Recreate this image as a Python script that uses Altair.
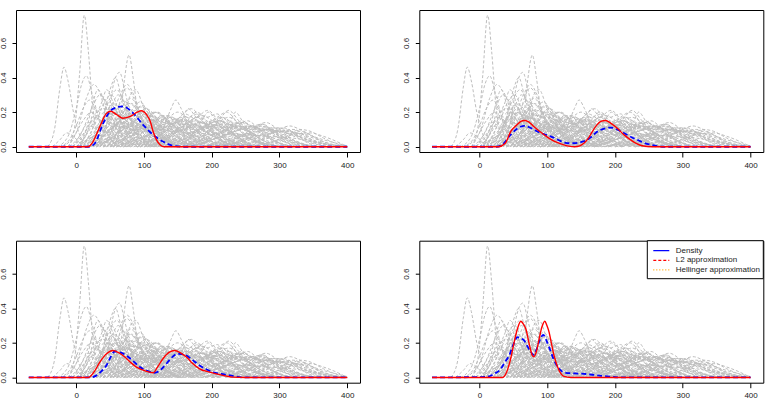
import altair as alt
import pandas as pd

# ---------------- data ----------------
X_TICKS = [0, 100, 200, 300, 400]
Y_TICKS = [0.0, 0.2, 0.4, 0.6]
X_DOMAIN = [-88.8, 418.8]
Y_DOMAIN = [-0.0304, 0.7904]

# grey dashed per-subject density curves (same in all four panels)
GREY_CURVES = [
    [(-42, 0), (-32, 0.10), (-24, 0.34), (-18, 0.46), (-12, 0.38), (-4, 0.20), (6, 0.06), (16, 0)],
    [(-12, 0), (-2, 0.12), (5, 0.42), (12, 0.76), (18, 0.55), (24, 0.25), (32, 0.06), (42, 0)],
    [(-28, 0), (-12, 0.06), (0, 0.22), (8, 0.36), (15, 0.41), (24, 0.30), (38, 0.10), (55, 0)],
    [(-12, 0), (2, 0.10), (15, 0.28), (26, 0.36), (34, 0.32), (46, 0.16), (62, 0.03), (75, 0)],
    [(55, 0), (64, 0.12), (71, 0.38), (78, 0.53), (84, 0.40), (90, 0.22), (100, 0.06), (112, 0)],
    [(35, 0), (46, 0.15), (55, 0.36), (64, 0.43), (72, 0.32), (84, 0.12), (98, 0.02), (108, 0)],
    [(25, 0), (38, 0.14), (50, 0.33), (58, 0.40), (66, 0.30), (80, 0.10), (95, 0)],
    [(55, 0), (70, 0.14), (80, 0.30), (88, 0.33), (98, 0.24), (112, 0.07), (125, 0)],
    [(-35, 0), (-24, 0.04), (-14, 0.08), (-4, 0.06), (6, 0.02), (15, 0)],
    [(-5, 0), (10, 0.10), (25, 0.24), (35, 0.30), (45, 0.25), (60, 0.10), (80, 0)],
    [(0, 0), (20, 0.10), (38, 0.26), (45, 0.33), (55, 0.25), (70, 0.10), (90, 0)],
    [(20, 0), (35, 0.12), (50, 0.28), (60, 0.33), (70, 0.26), (85, 0.10), (105, 0)],
    [(30, 0), (50, 0.15), (65, 0.30), (75, 0.36), (85, 0.30), (100, 0.12), (120, 0)],
    [(10, 0), (30, 0.08), (45, 0.20), (55, 0.25), (65, 0.22), (80, 0.10), (100, 0.02), (115, 0)],
    [(20, 0), (40, 0.10), (60, 0.22), (70, 0.27), (80, 0.22), (95, 0.10), (115, 0.02), (130, 0)],
    [(30, 0), (50, 0.08), (70, 0.20), (82, 0.25), (92, 0.20), (110, 0.08), (130, 0)],
    [(40, 0), (60, 0.08), (80, 0.20), (95, 0.26), (105, 0.20), (120, 0.08), (140, 0)],
    [(50, 0), (70, 0.08), (90, 0.18), (102, 0.22), (115, 0.17), (135, 0.06), (155, 0)],
    [(60, 0), (85, 0.08), (105, 0.17), (118, 0.20), (130, 0.16), (150, 0.06), (170, 0)],
    [(-5, 0), (15, 0.10), (30, 0.20), (40, 0.22), (52, 0.17), (70, 0.06), (90, 0)],
    [(5, 0), (25, 0.08), (45, 0.17), (60, 0.20), (75, 0.15), (95, 0.05), (115, 0)],
    [(15, 0), (40, 0.06), (65, 0.15), (85, 0.18), (105, 0.13), (130, 0.04), (150, 0)],
    [(25, 0), (55, 0.06), (80, 0.14), (100, 0.17), (120, 0.13), (145, 0.04), (170, 0)],
    [(40, 0), (70, 0.05), (100, 0.13), (125, 0.16), (145, 0.12), (170, 0.04), (195, 0)],
    [(60, 0), (90, 0.06), (120, 0.14), (140, 0.17), (160, 0.12), (185, 0.04), (210, 0)],
    [(70, 0), (100, 0.05), (130, 0.13), (150, 0.16), (170, 0.11), (200, 0.03), (225, 0)],
    [(115, 0), (128, 0.10), (140, 0.22), (147, 0.27), (155, 0.22), (170, 0.08), (185, 0)],
    [(90, 0), (120, 0.06), (150, 0.16), (170, 0.22), (185, 0.16), (210, 0.05), (235, 0)],
    [(100, 0), (130, 0.05), (160, 0.13), (180, 0.17), (200, 0.13), (225, 0.04), (250, 0)],
    [(120, 0), (150, 0.06), (175, 0.15), (194, 0.21), (210, 0.15), (235, 0.05), (260, 0)],
    [(140, 0), (170, 0.05), (195, 0.13), (215, 0.17), (235, 0.12), (260, 0.04), (285, 0)],
    [(160, 0), (185, 0.06), (210, 0.15), (225, 0.21), (240, 0.15), (265, 0.05), (290, 0)],
    [(170, 0), (200, 0.05), (225, 0.11), (245, 0.14), (262, 0.11), (290, 0.04), (320, 0)],
    [(190, 0), (215, 0.05), (238, 0.12), (253, 0.15), (268, 0.11), (295, 0.03), (320, 0)],
    [(210, 0), (240, 0.05), (262, 0.11), (280, 0.14), (298, 0.10), (325, 0.03), (350, 0)],
    [(240, 0), (270, 0.04), (295, 0.09), (315, 0.12), (335, 0.09), (365, 0.03), (395, 0)],
    [(200, 0), (240, 0.03), (270, 0.07), (295, 0.09), (320, 0.07), (360, 0.02), (400, 0)],
    [(150, 0), (190, 0.04), (220, 0.09), (250, 0.12), (275, 0.09), (315, 0.03), (360, 0)],
    [(130, 0), (165, 0.05), (195, 0.11), (225, 0.13), (250, 0.10), (285, 0.03), (320, 0)],
    [(80, 0), (110, 0.06), (140, 0.13), (160, 0.15), (180, 0.12), (210, 0.04), (240, 0)],
    [(50, 0), (80, 0.06), (110, 0.14), (130, 0.18), (148, 0.14), (175, 0.05), (200, 0)],
    [(30, 0), (60, 0.07), (85, 0.15), (105, 0.19), (125, 0.14), (150, 0.05), (175, 0)],
    [(100, 0), (140, 0.04), (175, 0.09), (205, 0.11), (235, 0.08), (275, 0.02), (310, 0)],
    [(180, 0), (220, 0.03), (255, 0.07), (285, 0.10), (310, 0.08), (350, 0.03), (400, 0)],
    [(110, 0), (140, 0.06), (165, 0.14), (185, 0.18), (205, 0.14), (235, 0.05), (265, 0)],
    [(60, 0), (95, 0.05), (130, 0.11), (160, 0.13), (190, 0.10), (230, 0.03), (265, 0)],
    [(20, 0), (45, 0.08), (70, 0.17), (88, 0.21), (105, 0.16), (130, 0.05), (155, 0)],
    [(0, 0), (25, 0.06), (50, 0.14), (70, 0.17), (90, 0.13), (115, 0.04), (140, 0)],
    [(45, 0), (65, 0.10), (85, 0.20), (98, 0.24), (110, 0.19), (130, 0.06), (150, 0)],
    [(130, 0), (160, 0.05), (190, 0.12), (210, 0.15), (230, 0.12), (260, 0.04), (290, 0)],
    [(220, 0), (250, 0.04), (275, 0.09), (295, 0.11), (315, 0.09), (345, 0.03), (375, 0)],
    [(90, 0), (125, 0.05), (160, 0.10), (190, 0.12), (220, 0.09), (260, 0.03), (300, 0)],
    [(40, 0), (75, 0.08), (105, 0.17), (120, 0.20), (135, 0.15), (160, 0.05), (185, 0)],
    [(160, 0), (200, 0.04), (235, 0.09), (265, 0.11), (290, 0.08), (330, 0.02), (370, 0)],
    [(250, 0), (290, 0.03), (320, 0.07), (345, 0.08), (365, 0.06), (390, 0.02), (400, 0)],
    [(-20, 0), (-5, 0.05), (10, 0.15), (22, 0.20), (35, 0.15), (50, 0.05), (65, 0)],
    [(10, 0), (30, 0.15), (45, 0.28), (52, 0.30), (62, 0.22), (78, 0.08), (95, 0)],
    [(40, 0), (55, 0.12), (68, 0.30), (75, 0.34), (85, 0.28), (100, 0.10), (118, 0)],
    [(0, 0), (12, 0.05), (22, 0.12), (30, 0.10), (40, 0.16), (52, 0.12), (65, 0.14), (80, 0.06), (95, 0.02), (110, 0)],
    [(15, 0), (25, 0.06), (35, 0.14), (45, 0.11), (58, 0.19), (70, 0.15), (85, 0.08), (100, 0.10), (120, 0.03), (140, 0)],
    [(20, 0), (35, 0.05), (50, 0.12), (62, 0.10), (75, 0.17), (90, 0.13), (105, 0.15), (125, 0.06), (150, 0)],
    [(25, 0), (45, 0.08), (60, 0.16), (72, 0.22), (85, 0.18), (100, 0.20), (115, 0.12), (135, 0.04), (160, 0)],
    [(35, 0), (55, 0.06), (75, 0.13), (90, 0.10), (110, 0.16), (125, 0.12), (145, 0.05), (170, 0)],
    [(45, 0), (70, 0.05), (90, 0.11), (110, 0.09), (130, 0.14), (150, 0.11), (175, 0.04), (200, 0)],
    [(55, 0), (80, 0.06), (100, 0.10), (120, 0.15), (140, 0.13), (160, 0.16), (180, 0.08), (205, 0.02), (230, 0)],
    [(65, 0), (90, 0.04), (115, 0.09), (135, 0.12), (155, 0.10), (175, 0.13), (195, 0.08), (225, 0.02), (250, 0)],
    [(75, 0), (100, 0.05), (125, 0.12), (150, 0.20), (165, 0.17), (180, 0.19), (200, 0.10), (225, 0.03), (250, 0)],
    [(85, 0), (115, 0.05), (140, 0.10), (160, 0.09), (180, 0.14), (200, 0.12), (225, 0.05), (255, 0)],
    [(95, 0), (120, 0.04), (145, 0.09), (170, 0.13), (190, 0.11), (210, 0.13), (235, 0.06), (265, 0)],
    [(105, 0), (135, 0.06), (160, 0.12), (180, 0.10), (200, 0.15), (220, 0.11), (245, 0.04), (275, 0)],
    [(115, 0), (145, 0.04), (170, 0.08), (195, 0.11), (215, 0.09), (240, 0.12), (265, 0.06), (295, 0)],
    [(125, 0), (155, 0.05), (180, 0.10), (205, 0.13), (225, 0.17), (245, 0.12), (270, 0.05), (300, 0)],
    [(135, 0), (165, 0.04), (195, 0.09), (220, 0.12), (240, 0.10), (260, 0.12), (285, 0.05), (315, 0)],
    [(150, 0), (180, 0.04), (210, 0.08), (235, 0.11), (255, 0.10), (275, 0.12), (300, 0.06), (330, 0)],
    [(165, 0), (200, 0.04), (230, 0.08), (255, 0.12), (275, 0.10), (295, 0.09), (320, 0.04), (350, 0)],
    [(185, 0), (215, 0.03), (245, 0.07), (270, 0.09), (290, 0.11), (310, 0.08), (340, 0.03), (370, 0)],
    [(200, 0), (235, 0.03), (265, 0.06), (290, 0.08), (315, 0.09), (335, 0.06), (365, 0.02), (395, 0)],
    [(230, 0), (265, 0.03), (295, 0.06), (320, 0.08), (340, 0.07), (365, 0.04), (400, 0.005)],
    [(260, 0), (290, 0.03), (310, 0.06), (330, 0.10), (345, 0.09), (365, 0.05), (390, 0.01), (400, 0)],
    [(10, 0), (22, 0.08), (32, 0.18), (42, 0.15), (55, 0.22), (68, 0.18), (82, 0.10), (100, 0.04), (120, 0)],
    [(5, 0), (18, 0.10), (28, 0.22), (38, 0.19), (48, 0.26), (60, 0.20), (75, 0.08), (95, 0)],
    [(30, 0), (42, 0.10), (55, 0.20), (65, 0.18), (78, 0.25), (92, 0.20), (108, 0.08), (130, 0)],
    [(40, 0), (55, 0.08), (70, 0.18), (82, 0.16), (95, 0.23), (110, 0.18), (128, 0.07), (150, 0)],
    [(50, 0), (68, 0.06), (85, 0.14), (100, 0.12), (115, 0.20), (132, 0.16), (150, 0.06), (175, 0)],
    [(60, 0), (80, 0.05), (100, 0.12), (118, 0.10), (135, 0.18), (152, 0.14), (170, 0.05), (195, 0)],
    [(70, 0), (92, 0.06), (112, 0.13), (128, 0.17), (145, 0.13), (165, 0.15), (185, 0.06), (210, 0)],
    [(80, 0), (105, 0.05), (128, 0.12), (145, 0.16), (160, 0.13), (178, 0.17), (198, 0.09), (225, 0.02), (245, 0)],
    [(90, 0), (118, 0.05), (142, 0.12), (160, 0.19), (175, 0.16), (195, 0.12), (220, 0.04), (245, 0)],
    [(110, 0), (135, 0.05), (160, 0.13), (178, 0.20), (192, 0.17), (208, 0.19), (225, 0.10), (250, 0.03), (270, 0)],
    [(140, 0), (168, 0.05), (190, 0.12), (208, 0.17), (222, 0.20), (238, 0.14), (260, 0.05), (285, 0)],
    [(175, 0), (205, 0.05), (228, 0.11), (245, 0.15), (258, 0.12), (275, 0.13), (298, 0.05), (325, 0)],
    [(0, 0), (20, 0.05), (40, 0.08), (60, 0.12), (80, 0.10), (100, 0.12), (130, 0.06), (160, 0.02), (190, 0)],
    [(20, 0), (50, 0.04), (80, 0.09), (110, 0.11), (140, 0.09), (170, 0.07), (200, 0.03), (240, 0)],
    [(-10, 0), (5, 0.06), (18, 0.14), (30, 0.12), (42, 0.17), (56, 0.12), (72, 0.05), (90, 0)],
    [(-25, 0), (-10, 0.04), (0, 0.12), (10, 0.22), (20, 0.27), (30, 0.20), (45, 0.08), (60, 0)],
    [(5, 0), (15, 0.10), (25, 0.26), (32, 0.33), (40, 0.28), (50, 0.15), (65, 0.04), (80, 0)],
    [(30, 0), (44, 0.12), (54, 0.25), (62, 0.30), (70, 0.27), (80, 0.16), (95, 0.05), (110, 0)],
    [(50, 0), (62, 0.10), (72, 0.22), (80, 0.28), (88, 0.25), (98, 0.14), (112, 0.04), (125, 0)],
    [(60, 0), (78, 0.08), (92, 0.18), (102, 0.22), (112, 0.20), (125, 0.10), (140, 0.03), (155, 0)],
    [(120, 0), (140, 0.06), (155, 0.14), (165, 0.22), (175, 0.18), (190, 0.08), (210, 0)],
    [(200, 0), (215, 0.06), (228, 0.15), (235, 0.20), (245, 0.15), (260, 0.06), (280, 0)],
    [(150, 0), (170, 0.06), (185, 0.15), (195, 0.20), (205, 0.16), (222, 0.06), (245, 0)],
    [(15, 0), (30, 0.07), (45, 0.15), (55, 0.13), (68, 0.20), (80, 0.16), (95, 0.07), (115, 0)],
    [(25, 0), (40, 0.05), (55, 0.11), (70, 0.16), (82, 0.13), (95, 0.15), (112, 0.07), (135, 0)],
    [(35, 0), (52, 0.08), (68, 0.17), (80, 0.21), (92, 0.17), (105, 0.19), (120, 0.09), (140, 0)],
    [(45, 0), (62, 0.07), (78, 0.14), (92, 0.19), (106, 0.15), (122, 0.08), (140, 0.02), (160, 0)],
    [(55, 0), (75, 0.06), (95, 0.14), (110, 0.12), (125, 0.18), (142, 0.13), (160, 0.05), (180, 0)],
    [(65, 0), (85, 0.05), (105, 0.11), (122, 0.16), (138, 0.14), (155, 0.17), (172, 0.08), (195, 0)],
    [(75, 0), (98, 0.06), (118, 0.13), (135, 0.11), (152, 0.16), (168, 0.12), (188, 0.05), (210, 0)],
    [(85, 0), (110, 0.05), (132, 0.12), (150, 0.14), (168, 0.11), (185, 0.14), (205, 0.06), (230, 0)],
    [(95, 0), (122, 0.06), (145, 0.13), (162, 0.17), (178, 0.13), (198, 0.07), (222, 0.02), (245, 0)],
    [(105, 0), (130, 0.04), (155, 0.10), (175, 0.15), (192, 0.13), (212, 0.15), (232, 0.07), (258, 0)],
    [(115, 0), (140, 0.05), (165, 0.11), (185, 0.14), (205, 0.12), (225, 0.15), (248, 0.07), (275, 0)],
    [(125, 0), (150, 0.04), (175, 0.09), (198, 0.13), (218, 0.11), (238, 0.14), (260, 0.06), (288, 0)],
    [(135, 0), (162, 0.05), (188, 0.11), (210, 0.15), (230, 0.12), (252, 0.09), (278, 0.03), (305, 0)],
    [(145, 0), (175, 0.04), (202, 0.09), (225, 0.12), (248, 0.14), (268, 0.09), (292, 0.03), (320, 0)],
    [(155, 0), (185, 0.04), (212, 0.09), (238, 0.12), (260, 0.10), (282, 0.11), (308, 0.05), (335, 0)],
    [(170, 0), (200, 0.04), (228, 0.08), (252, 0.11), (272, 0.12), (295, 0.08), (322, 0.03), (350, 0)],
    [(190, 0), (222, 0.03), (250, 0.07), (275, 0.10), (298, 0.09), (320, 0.10), (348, 0.04), (378, 0)],
    [(210, 0), (245, 0.03), (275, 0.06), (300, 0.09), (325, 0.08), (350, 0.05), (380, 0.01), (400, 0)],
    [(5, 0), (20, 0.04), (35, 0.10), (50, 0.08), (65, 0.13), (82, 0.10), (100, 0.05), (125, 0)],
    [(10, 0), (30, 0.05), (50, 0.10), (68, 0.14), (85, 0.12), (102, 0.13), (122, 0.06), (148, 0)],
    [(20, 0), (42, 0.04), (65, 0.09), (85, 0.12), (105, 0.10), (125, 0.12), (148, 0.06), (175, 0)],
    [(30, 0), (55, 0.04), (80, 0.08), (105, 0.11), (128, 0.10), (150, 0.11), (175, 0.05), (205, 0)],
    [(40, 0), (68, 0.04), (95, 0.08), (120, 0.10), (145, 0.09), (170, 0.10), (198, 0.05), (230, 0)],
    [(50, 0), (80, 0.03), (110, 0.07), (140, 0.09), (168, 0.08), (195, 0.09), (225, 0.04), (260, 0)],
    [(70, 0), (105, 0.03), (140, 0.06), (175, 0.08), (205, 0.07), (235, 0.07), (268, 0.03), (300, 0)],
    [(100, 0), (140, 0.03), (180, 0.06), (215, 0.08), (248, 0.07), (280, 0.06), (315, 0.02), (350, 0)],
    [(130, 0), (170, 0.03), (210, 0.05), (250, 0.07), (285, 0.06), (320, 0.05), (360, 0.02), (400, 0)],
    [(25, 0), (35, 0.08), (45, 0.20), (52, 0.24), (60, 0.20), (72, 0.10), (88, 0.03), (100, 0)],
    [(35, 0), (48, 0.06), (60, 0.16), (68, 0.23), (76, 0.20), (88, 0.11), (102, 0.03), (115, 0)],
    [(60, 0), (72, 0.06), (85, 0.14), (95, 0.20), (105, 0.17), (118, 0.08), (135, 0)],
    [(70, 0), (85, 0.06), (100, 0.15), (110, 0.20), (120, 0.16), (135, 0.06), (150, 0)],
    [(95, 0), (110, 0.06), (125, 0.14), (135, 0.18), (145, 0.14), (160, 0.06), (178, 0)],
    [(15, 0), (28, 0.06), (40, 0.16), (48, 0.20), (56, 0.17), (68, 0.08), (85, 0)],
    [(-5, 0), (8, 0.05), (20, 0.13), (30, 0.17), (40, 0.13), (55, 0.05), (70, 0)],
    [(170, 0), (190, 0.06), (205, 0.13), (215, 0.17), (228, 0.12), (245, 0.04), (265, 0)],
    [(230, 0), (250, 0.05), (265, 0.11), (275, 0.13), (288, 0.10), (305, 0.04), (325, 0)],
    [(255, 0), (275, 0.04), (292, 0.09), (305, 0.11), (318, 0.09), (338, 0.03), (360, 0)],
    [(280, 0), (300, 0.03), (318, 0.07), (330, 0.09), (345, 0.07), (365, 0.02), (385, 0)],
]

# panel curves: density (blue dashed) and L2 approximation (red solid)
P1_DENS_X = [-70, 18, 23, 27.7, 40, 49.7, 60, 69.3, 84, 98.7, 113.5, 128, 143, 160, 400]
P1_DENS_Y = [0, 0, 0.005, 0.02, 0.137, 0.204, 0.228, 0.233, 0.194, 0.127, 0.069, 0.03, 0.006, 0, 0]
P1_L2_X = [-70, 17, 25, 35, 44, 51, 60, 69, 80, 90, 96, 104, 109, 113.5, 118.5, 124, 130, 400]
P1_L2_Y = [0, 0, 0.03, 0.117, 0.19, 0.205, 0.185, 0.165, 0.175, 0.2, 0.208, 0.185, 0.15, 0.088, 0.04, 0.01, 0, 0]

P2_DENS_X = [-70, 25, 34, 46, 56, 66, 75, 85.5, 95, 105, 115, 124.8, 135, 142, 150, 159, 166, 174, 184,
             193.6, 203, 213, 223, 232.8, 242, 252.6, 272, 400]
P2_DENS_Y = [0, 0, 0.012, 0.07, 0.105, 0.121, 0.11, 0.088, 0.073, 0.06, 0.042, 0.025, 0.02, 0.021, 0.027,
             0.04, 0.06, 0.088, 0.105, 0.111, 0.1, 0.079, 0.058, 0.04, 0.024, 0.012, 0, 0]
P2_L2_X = [-70, 28, 38, 46, 55, 61, 66, 72, 80, 90, 100, 110, 120, 134, 140, 148, 154, 160, 166.5, 173,
           179, 186, 194, 203, 213, 223, 232, 240, 255, 400]
P2_L2_Y = [0, 0, 0.02, 0.088, 0.125, 0.146, 0.152, 0.145, 0.117, 0.085, 0.056, 0.033, 0.017, 0.002, 0,
           0.005, 0.02, 0.045, 0.088, 0.125, 0.146, 0.152, 0.135, 0.108, 0.07, 0.04, 0.018, 0.006, 0, 0]

P3_DENS_X = [-70, 22, 30, 37, 44.8, 51, 57, 65, 74, 84, 94, 105, 116, 125, 133, 141, 150, 156, 162.7,
             172, 182, 192, 202, 214, 226.5, 246, 400]
P3_DENS_Y = [0, 0, 0.012, 0.035, 0.07, 0.12, 0.15, 0.145, 0.127, 0.095, 0.06, 0.038, 0.027, 0.045, 0.079,
             0.115, 0.137, 0.135, 0.127, 0.1, 0.069, 0.047, 0.031, 0.02, 0.012, 0, 0]
P3_L2_X = [-70, 18, 26, 35, 44.8, 54.5, 62, 71.8, 80, 89, 97, 103.7, 113.5, 120, 128, 137, 145.5, 154,
           162.7, 172, 182, 197, 216.6, 231, 250, 400]
P3_L2_Y = [0, 0, 0.03, 0.089, 0.137, 0.156, 0.145, 0.118, 0.088, 0.06, 0.045, 0.035, 0.027, 0.06, 0.108,
           0.145, 0.156, 0.142, 0.118, 0.08, 0.05, 0.031, 0.012, 0.002, 0, 0]

P4_DENS_X = [-70, 10, 21.7, 31.5, 37, 43.8, 50, 56, 61, 65.9, 70, 75.7, 80, 84, 88, 94.3, 98, 102.7, 110,
             117.5, 127, 140, 154, 174, 193, 210, 400]
P4_DENS_Y = [0, 0.003, 0.021, 0.05, 0.085, 0.127, 0.19, 0.233, 0.225, 0.214, 0.185, 0.148, 0.13, 0.16,
             0.206, 0.246, 0.22, 0.175, 0.1, 0.05, 0.027, 0.023, 0.021, 0.012, 0.004, 0, 0]
P4_L2_X = [-70, 34, 40, 46, 51, 56, 61, 64.5, 68.4, 73, 78, 80, 84, 88, 92, 96.4, 99.5, 102.7, 106, 110,
           117.5, 124.8, 135, 400]
P4_L2_Y = [0, 0, 0.03, 0.108, 0.2, 0.281, 0.325, 0.31, 0.281, 0.2, 0.127, 0.12, 0.15, 0.223, 0.29, 0.325,
           0.3, 0.262, 0.2, 0.127, 0.04, 0.006, 0, 0]

PANELS = [
    (P1_DENS_X, P1_DENS_Y, P1_L2_X, P1_L2_Y),
    (P2_DENS_X, P2_DENS_Y, P2_L2_X, P2_L2_Y),
    (P3_DENS_X, P3_DENS_Y, P3_L2_X, P3_L2_Y),
    (P4_DENS_X, P4_DENS_Y, P4_L2_X, P4_L2_Y),
]

LEGEND_LABELS = ["Density", "L2 approximation", "Hellinger approximation"]
LEGEND_COLORS = ["#0000FF", "#FF0000", "#FFA500"]

# ---------------- build ----------------
FONT = "Liberation Sans"
W, H = 344, 142

grey_rows = []
for i, curve in enumerate(GREY_CURVES):
    for j, (x, y) in enumerate(curve):
        grey_rows.append({"curve": i, "k": j, "x": x, "y": y})
grey_df = pd.DataFrame(grey_rows)

xscale = alt.Scale(domain=X_DOMAIN, nice=False, zero=False)
yscale = alt.Scale(domain=Y_DOMAIN, nice=False, zero=False)
xaxis = alt.Axis(values=X_TICKS, format="d", title=None, grid=False, domain=False,
                 tickSize=5, labelPadding=4, labelFont=FONT, labelFontSize=8,
                 labelColor="#222222", tickColor="black")
yaxis = alt.Axis(values=Y_TICKS, format=".1f", title=None, grid=False, domain=False,
                 tickSize=4, labelPadding=5, labelAngle=270, labelAlign="center",
                 labelBaseline="bottom", labelFont=FONT, labelFontSize=8,
                 labelColor="#222222", tickColor="black")


def panel(dx, dy, lx, ly, with_legend=False):
    grey = alt.Chart(grey_df).mark_line(
        color="#BEBEBE", strokeDash=[3, 2], strokeWidth=1, interpolate="monotone", clip=True
    ).encode(
        x=alt.X("x:Q", scale=xscale, axis=xaxis),
        y=alt.Y("y:Q", scale=yscale, axis=yaxis),
        detail="curve:N",
        order="k:Q",
    )
    dens = alt.Chart(pd.DataFrame({"x": dx, "y": dy})).mark_line(
        color="#0000FF", strokeDash=[5, 3], strokeWidth=1.8, interpolate="monotone", clip=True
    ).encode(x=alt.X("x:Q", scale=xscale), y=alt.Y("y:Q", scale=yscale))
    l2 = alt.Chart(pd.DataFrame({"x": lx, "y": ly})).mark_line(
        color="#FF0000", strokeWidth=1.4, interpolate="monotone", clip=True
    ).encode(x=alt.X("x:Q", scale=xscale), y=alt.Y("y:Q", scale=yscale))
    layers = [grey, dens, l2]
    if with_legend:
        one = pd.DataFrame({"label": ["legend"]})
        box = alt.Chart(one).mark_rect(fill="white", stroke="black", strokeWidth=1).encode(
            x=alt.value(228), x2=alt.value(W), y=alt.value(0), y2=alt.value(38)
        )
        layers.append(box)
        dashes = [[1, 0], [3, 2], [1, 2]]
        for i, (lab, col) in enumerate(zip(LEGEND_LABELS, LEGEND_COLORS)):
            yy = 10 + i * 9.6
            d = pd.DataFrame({"label": [lab]})
            layers.append(
                alt.Chart(d).mark_rule(color=col, strokeWidth=1.2, strokeDash=dashes[i]).encode(
                    x=alt.value(234), x2=alt.value(250), y=alt.value(yy)
                )
            )
            layers.append(
                alt.Chart(d).mark_text(align="left", baseline="middle", font=FONT, fontSize=8,
                                       color="#222222").encode(
                    x=alt.value(256.5), y=alt.value(yy), text="label:N"
                )
            )
    return alt.layer(*layers).properties(width=W, height=H)


charts = [panel(*p, with_legend=(i == 3)) for i, p in enumerate(PANELS)]

chart = alt.concat(
    *charts, columns=2, spacing={"row": 88.7, "column": 59.3}, bounds="flush"
).properties(
    autosize=alt.AutoSizeParams(type="none"),
    padding={"left": 16, "top": 10, "right": 752, "bottom": 408},
    background="white",
).configure_view(stroke="black", strokeWidth=1)

chart.save("out.html", embed_options={"renderer": "svg", "actions": False})
